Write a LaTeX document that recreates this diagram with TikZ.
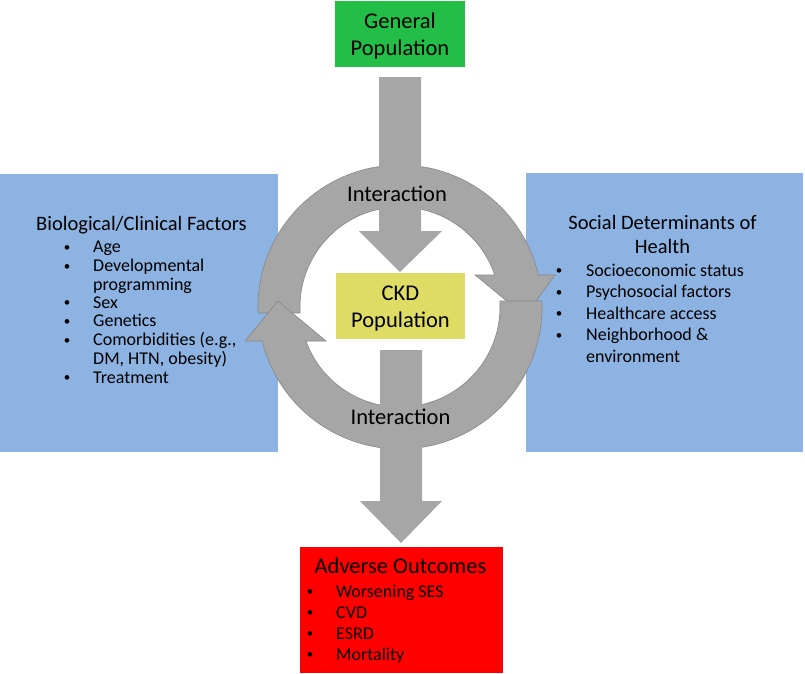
\documentclass[tikz,border=0pt]{standalone}
\usepackage{fontspec}
\setmainfont{Carlito}
\definecolor{gpgreen}{RGB}{34,190,72}
\definecolor{ckdyellow}{RGB}{222,220,100}
\definecolor{boxblue}{RGB}{141,179,226}
\definecolor{ringgray}{RGB}{166,166,166}
\definecolor{ringedge}{RGB}{135,135,135}
\definecolor{advred}{RGB}{255,0,0}
\begin{document}
\begin{tikzpicture}[x=1pt,y=-1pt,
  panel/.style={inner sep=0pt, outer sep=0pt, anchor=north west},
  bigtxt/.style={font=\fontsize{22.5}{27}\selectfont, anchor=base, inner sep=0pt},
  headtxt/.style={font=\fontsize{20.5}{24}\selectfont, anchor=base, inner sep=0pt},
  itemtxt/.style={font=\fontsize{18}{20}\selectfont, anchor=base west, inner sep=0pt},
  bullettxt/.style={font=\fontsize{13}{15}\selectfont, anchor=base, inner sep=0pt, yshift=1.5pt},
  ringarrow/.style={fill=ringgray, draw=ringedge, line width=0.6pt, line join=miter},
  blockarrow/.style={fill=ringgray, draw=none}]
\useasboundingbox (0,0) rectangle (805,673);

% panels
\node[panel, fill=boxblue, minimum width=278pt, minimum height=278pt] (bio) at (0,174) {};
\node[panel, fill=boxblue, minimum width=277pt, minimum height=279pt] (sdh) at (526,173) {};
\node[panel, fill=gpgreen, minimum width=130pt, minimum height=66pt] (gen) at (335,1) {};
\node[panel, fill=advred, minimum width=203pt, minimum height=126pt] (adv) at (300,547) {};

% circular arrows
\path[ringarrow] (300.2,313) -- (258.1,313) arc[start angle=177.58, end angle=346.98, radius=142]
  -- (555,275) -- (525,316) -- (475,275) -- (494.7,275)
  arc[start angle=341.34, end angle=176.56, radius=100] -- cycle;
\path[ringarrow] (499.8,301) -- (541.9,301) arc[start angle=-2.42, end angle=166.15, radius=142]
  -- (245,341) -- (278,301) -- (326,341) -- (305.96,341)
  arc[start angle=160.12, end angle=-3.44, radius=100] -- cycle;

% straight block arrows
\path[blockarrow] (379,77) -- (421,77) -- (421,231) -- (442,231) -- (400,272) -- (359,231) -- (379,231) -- cycle;
\path[blockarrow] (380,350) -- (422,350) -- (422,501) -- (442,501) -- (401,543) -- (360,501) -- (380,501) -- cycle;

% CKD box
\node[panel, fill=ckdyellow, minimum width=129pt, minimum height=66pt] (ckd) at (336,273) {};

% texts
\node[bigtxt] (genA) at (400,28) {General};
\node[bigtxt] (genB) at (400,55) {Population};
\node[bigtxt] (ckdA) at (400.5,300) {CKD};
\node[bigtxt] (ckdB) at (400.5,327) {Population};
\node[bigtxt] (intA) at (397,201) {Interaction};
\node[bigtxt] (intB) at (400.5,424) {Interaction};

% biological box
\node[headtxt] (bioH) at (141.5,230.5) {Biological/Clinical Factors};
\foreach \y/\t [count=\i] in {252.5/Age, 271.5/Developmental, 308.3/Sex, 326.8/Genetics, 345.7/{Comorbidities (e.g.,}, 383.3/Treatment}{
  \node[bullettxt] (bioB\i) at (67,\y) {•};
  \node[itemtxt] (bioT\i) at (93,\y) {\t};
}
\node[itemtxt] (bioC1) at (93,290) {programming};
\node[itemtxt] (bioC2) at (93,364.5) {DM, HTN, obesity)};

% social determinants box
\node[headtxt] (sdhH1) at (662.5,229.3) {Social Determinants of};
\node[headtxt] (sdhH2) at (662.5,253.3) {Health};
\foreach \y/\t [count=\i] in {276/Socioeconomic status, 297.7/Psychosocial factors, 319/Healthcare access, 340.7/{Neighborhood \&}}{
  \node[bullettxt] (sdhB\i) at (559,\y) {•};
  \node[itemtxt] (sdhT\i) at (586,\y) {\t};
}
\node[itemtxt] (sdhC1) at (586,362.3) {environment};

% adverse outcomes box
\node[bigtxt] (advH) at (400.5,573) {Adverse Outcomes};
\foreach \y/\t [count=\i] in {597/Worsening SES, 618/CVD, 639/ESRD, 660/Mortality}{
  \node[bullettxt] (advB\i) at (310,\y) {•};
  \node[itemtxt] (advT\i) at (336,\y) {\t};
}
\end{tikzpicture}
\end{document}
